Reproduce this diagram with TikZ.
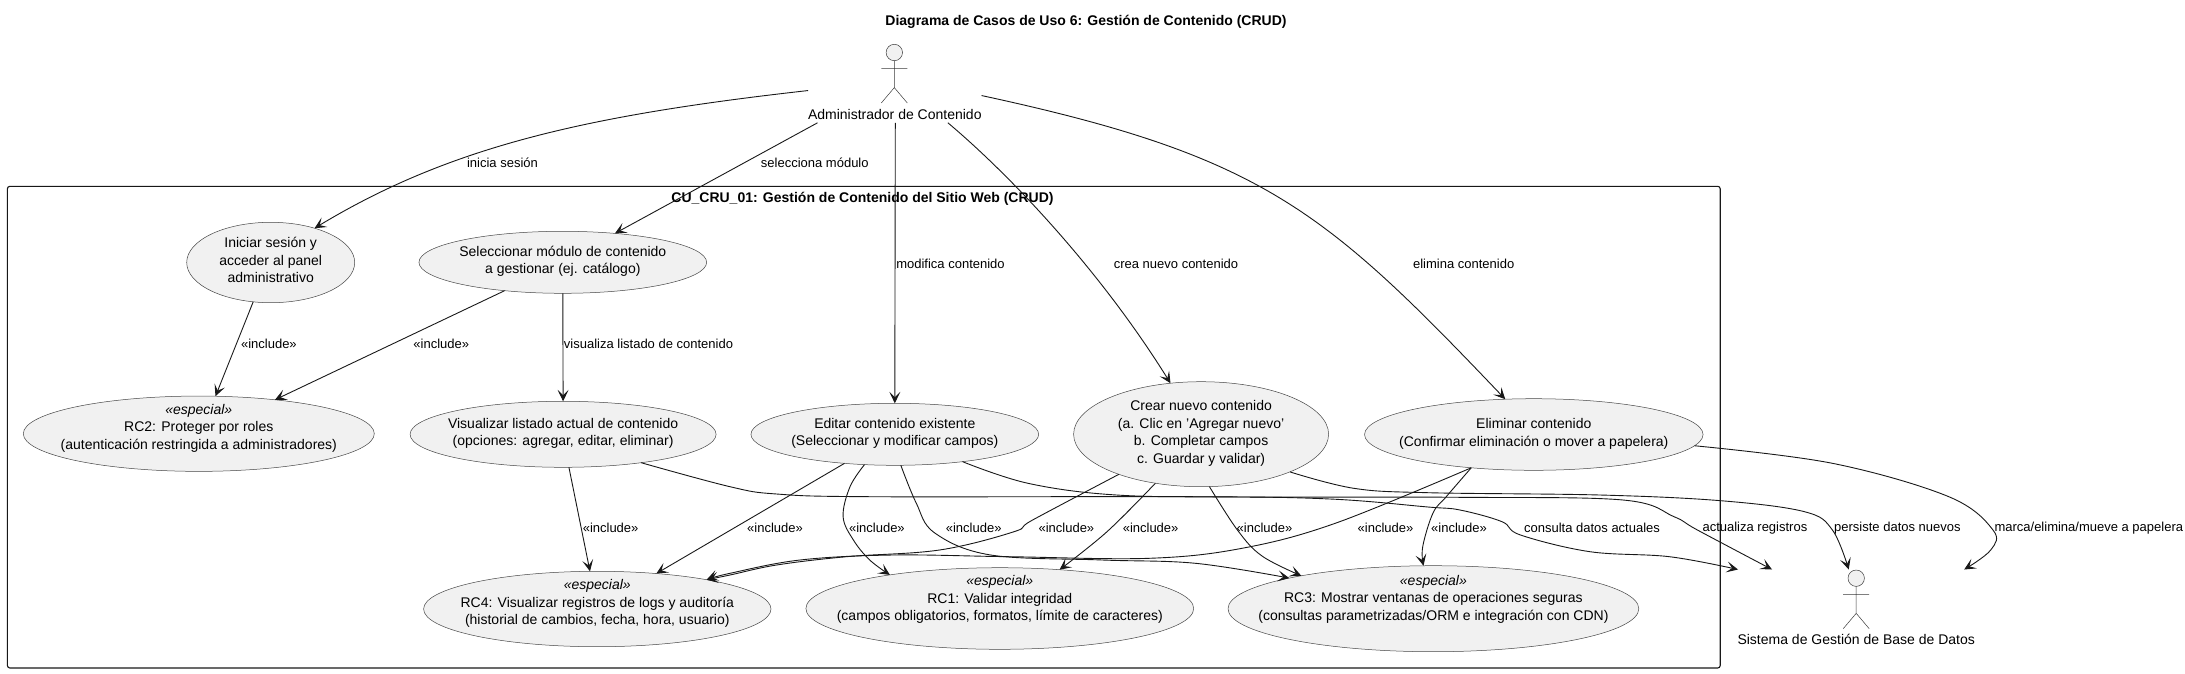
\documentclass[tikz,border=0pt]{standalone}
\usepackage{fontspec}
\setmainfont{Liberation Sans}
\usetikzlibrary{arrows.meta,shapes.geometric}
\newcommand{\uctext}[2][0]{\smash{\makebox[0pt]{\raisebox{\dimexpr #1pt-4pt\relax}{\begin{tabular}{@{}c@{}}#2\end{tabular}}}}}
\newcommand{\stick}[2]{\begin{scope}[shift={(#1,#2)}]
  \draw[stickln,fill=ucfill] (0,8.2) circle[radius=8.2pt];
  \draw[stickln] (0,16.4)--(0,43.3) (-13,24.3)--(13,24.3) (-13,58.7)--(0,43.3)--(13,58.7);
\end{scope}}
\newcommand{\curve}[1]{\draw[conn] plot[smooth,tension=.6] coordinates {#1};}
\definecolor{ucfill}{HTML}{F1F1F1}
\definecolor{ink}{HTML}{181818}
\tikzset{
  ucbox/.style={ellipse,draw=ink!80,fill=ucfill,line width=.5pt,inner sep=0pt,outer sep=0pt,font=\fontsize{14}{17.5}\selectfont},
  conn/.style={draw=ink,line width=.9pt,-{Stealth[length=11.5pt,width=11pt,inset=5.5pt]}},
  stickln/.style={draw=ink!85,line width=.5pt},
  lbl/.style={inner sep=0pt,font=\fontsize{13}{15}\selectfont,text=black},
  ttl/.style={inner sep=0pt,font=\fontsize{14}{17}\bfseries\selectfont,text=black},
  actorbox/.style={inner sep=0pt,outer sep=0pt,anchor=south,font=\fontsize{14}{17}\selectfont,text height=75pt,text depth=3.5pt},
  sysbox/.style={draw=ink,line width=1.1pt,rounded corners=2.5pt,inner sep=0pt,minimum width=1712.8pt,minimum height=481.7pt}
}
\begin{document}
\begin{tikzpicture}[x=1pt,y=-1pt]
\useasboundingbox (0,0) rectangle (2185,673);
\node[ttl] (title) at (1086,21.4) {Diagrama de Casos de Uso 6: Gestión de Contenido (CRUD)};
\node[sysbox] (sys) at (863.8,427.15) {};
\node[ttl] (systitle) at (862.5,199) {CU\_CRU\_01: Gestión de Contenido del Sitio Web (CRUD)};

\stick{894.3}{44.3}
\stick{1856.2}{570}
\node[actorbox] (admin) at (894.8,122.8) {Administrador de Contenido};
\node[actorbox] (bd) at (1856.2,648) {Sistema de Gestión de Base de Datos};

\node[ucbox,minimum width=168pt,minimum height=80.4pt] (iniciar) at (270.7,262.5) {\uctext[1]{Iniciar sesión y\\acceder al panel\\administrativo}};
\node[ucbox,minimum width=287.7pt,minimum height=62pt] (selec) at (562.8,262.3) {\uctext[1]{Seleccionar módulo de contenido\\a gestionar (ej. catálogo)}};
\node[ucbox,minimum width=351pt,minimum height=75.3pt] (rcdos) at (198.8,433.7) {\uctext[5.7]{\textit{«especial»}\\RC2: Proteger por roles\\(autenticación restringida a administradores)}};
\node[ucbox,minimum width=306pt,minimum height=66pt] (visual) at (563.1,434.3) {\uctext[1]{Visualizar listado actual de contenido\\(opciones: agregar, editar, eliminar)}};
\node[ucbox,minimum width=287.7pt,minimum height=62pt] (editar) at (894.8,434.3) {\uctext[1]{Editar contenido existente\\(Seleccionar y modificar campos)}};
\node[ucbox,minimum width=255pt,minimum height=105pt] (crear) at (1201.1,434.2) {\uctext[1]{Crear nuevo contenido\\(a. Clic en 'Agregar nuevo'\\b. Completar campos\\c. Guardar y validar)}};
\node[ucbox,minimum width=338.5pt,minimum height=71.6pt] (elim) at (1533.8,434.5) {\uctext[1]{Eliminar contenido\\(Confirmar eliminación o mover a papelera)}};
\node[ucbox,minimum width=347.4pt,minimum height=75.4pt] (rccuatro) at (597.3,609) {\uctext[5.7]{\textit{«especial»}\\RC4: Visualizar registros de logs y auditoría\\(historial de cambios, fecha, hora, usuario)}};
\node[ucbox,minimum width=387.8pt,minimum height=81.6pt] (rcuno) at (999.8,608.5) {\uctext[9]{\textit{«especial»}\\RC1: Validar integridad\\(campos obligatorios, formatos, límite de caracteres)}};
\node[ucbox,minimum width=410.8pt,minimum height=86pt] (rctres) at (1433.4,608.7) {\uctext[10]{\textit{«especial»}\\RC3: Mostrar ventanas de operaciones seguras\\(consultas parametrizadas/ORM e integración con CDN)}};

% actor to use cases
\draw[conn] ([yshift=-7pt]admin.west) .. controls (588,115.3) and (451,145.8) .. (iniciar.38.7);
\draw[conn] ([xshift=-77.3pt]admin.south) -- (selec.29.7);
\draw[conn] ([xshift=.5pt]admin.south) -- (editar.north);
\draw[conn] ([xshift=53.1pt]admin.south) .. controls (1010,175) and (1100,270) .. (crear.121);
\draw[conn] ([yshift=-12pt]admin.east) .. controls (1262,156) and (1324,209) .. (elim.129.3);

% includes
\draw[conn] (iniciar.246.9) -- (rcdos.66.6);
\draw[conn] (selec.206.4) -- (rcdos.24.9);
\draw[conn] (selec.south) -- (visual.north);
\draw[conn] (visual.280.8) -- (rccuatro.101.8);
\draw[conn] (editar.210.9) -- (rccuatro.31.1);
\curve{(editar.225.9) (850,486.7) (843.1,516.7) (853.4,540) (869.7,560) (rcuno.163.3)}
\curve{(editar.281.8) (916.2,503) (934.8,533) (990.7,555) (1102.4,560) (1195.6,563.3) (rctres.168.2)}
\curve{(crear.206.7) (1032.6,520) (1014,531.7) (939.5,550) (846.4,556.7) (776.6,565) (730,575) (rccuatro.15.1)}
\curve{(crear.227.4) (1107,531.7) (rcuno.33.4)}
\curve{(crear.279.1) (1237.4,530) (1262,556) (rctres.166.1)}
\curve{(elim.208.8) (1335.2,523.3) (1242,548.3) (1149,558.3) (1009.3,556.7) (893,555) (800,560) (730,573.3) (rccuatro.15.1)}
\curve{(elim.208.8) (1446,497) (1433,513) (1422.7,546.7) (rctres.103.1)}

% to the database actor
\curve{(visual.340) (730,486.7) (776.6,494) (870,496.7) (1195,496.7) (1330,499) (1428,507) (1460,510) (1502,521.7) (1520.5,535) (1590,551.7) (1669.5,556.7) ([xshift=-118.2pt]bd.north)}
\curve{(editar.338.6) (1028,483.3) (1116.4,495) (1243,497) (1460,497.3) (1623,500) (1674,516.7) (1697.4,530) ([xshift=-84.2pt]bd.north)}
\curve{(crear.337.7) (1353.8,488.3) (1428,492.7) (1600,495) (1720.7,500.7) (1804.5,511.7) (1832.4,530) ([xshift=-7.5pt]bd.north)}
\curve{(elim.356.9) (1832.4,463.3) (1948.8,496.7) (1993,530) (1990.7,550) ([xshift=108pt]bd.north)}

% connector labels
\node[lbl] (l1) at (502.5,162.7) {inicia sesión};
\node[lbl] (l2) at (814.8,163) {selecciona módulo};
\node[lbl] (l3) at (950.5,264) {modifica contenido};
\node[lbl] (l4) at (1176,264) {crea nuevo contenido};
\node[lbl] (l5) at (1463.7,264) {elimina contenido};
\node[lbl] (l6) at (268.9,344) {«include»};
\node[lbl] (l7) at (441.3,344) {«include»};
\node[lbl] (l8) at (648.5,344) {visualiza listado de contenido};
\node[lbl] (l9) at (610.6,528) {«include»};
\node[lbl] (l10) at (775,528) {«include»};
\node[lbl] (l11) at (876.9,528) {«include»};
\node[lbl] (l12) at (973.7,528) {«include»};
\node[lbl] (l13) at (1066.4,528) {«include»};
\node[lbl] (l14) at (1150.6,528) {«include»};
\node[lbl] (l15) at (1264.5,528) {«include»};
\node[lbl] (l16) at (1385.5,528) {«include»};
\node[lbl] (l17) at (1459,528) {«include»};
\node[lbl] (l18) at (1592,528) {consulta datos actuales};
\node[lbl] (l19) at (1754.9,528) {actualiza registros};
\node[lbl] (l20) at (1897.4,528) {persiste datos nuevos};
\node[lbl] (l21) at (2088.8,528) {marca/elimina/mueve a papelera};
\end{tikzpicture}
\end{document}
